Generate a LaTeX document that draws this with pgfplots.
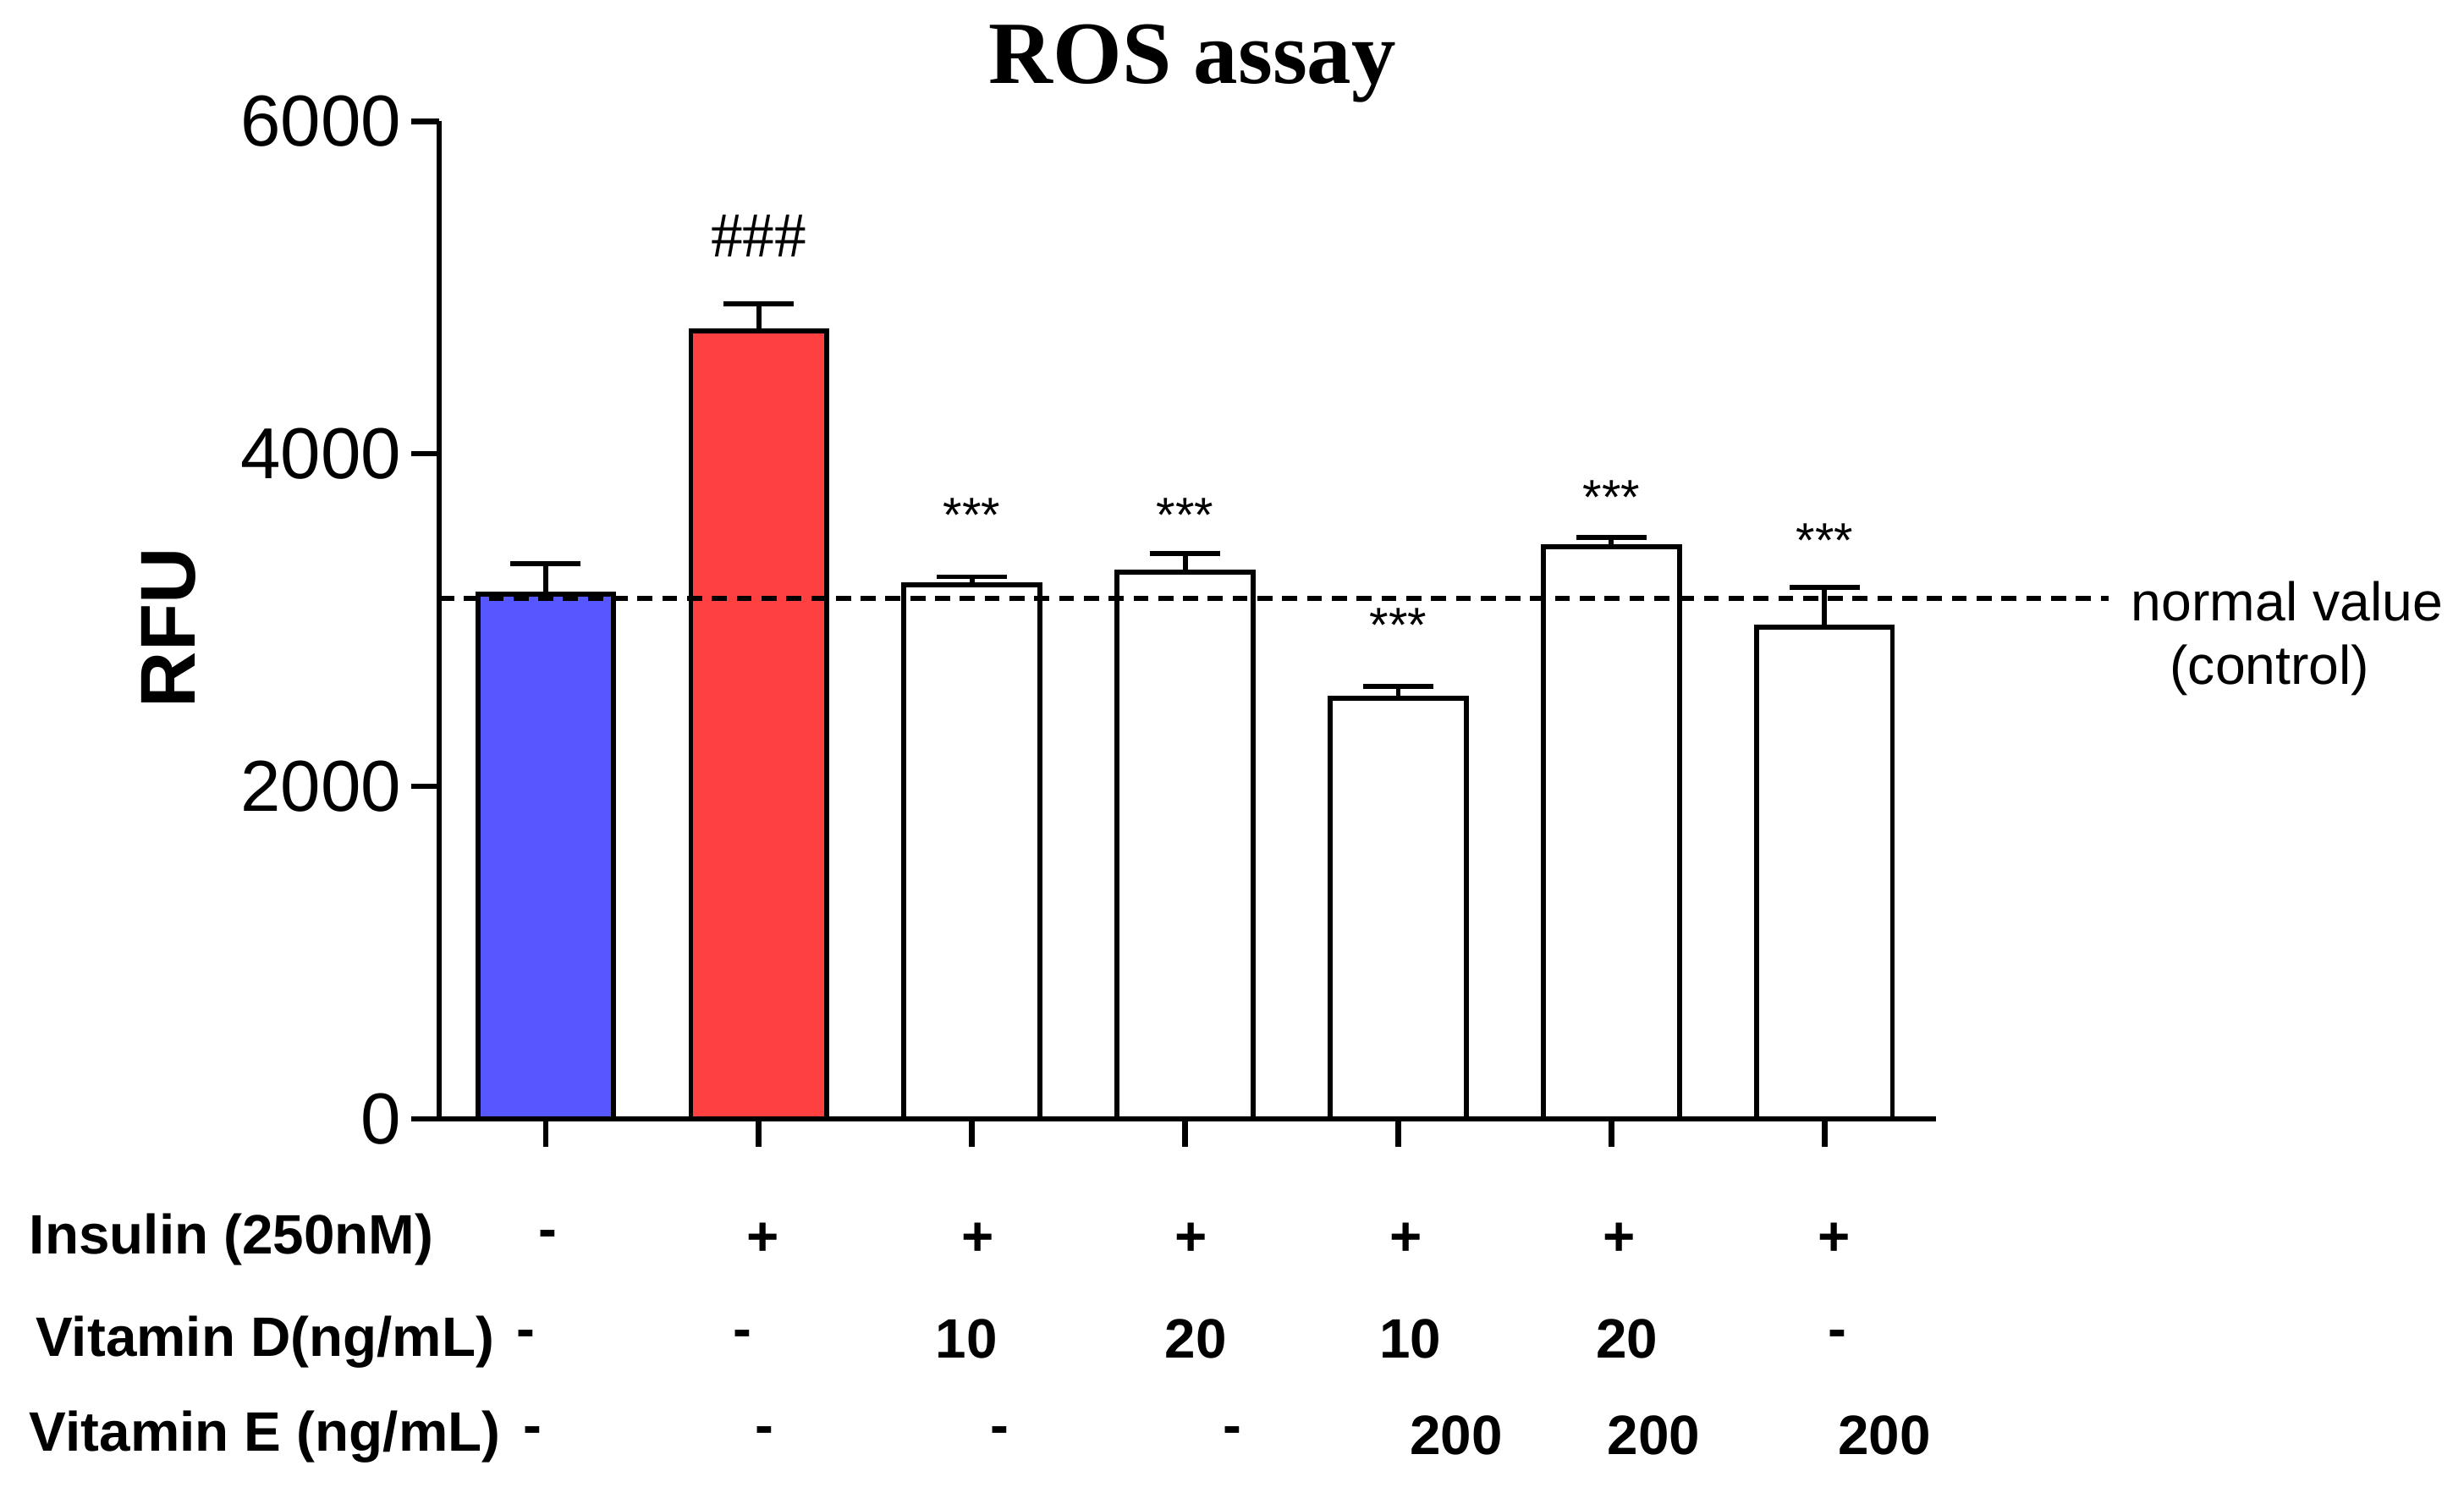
\documentclass[border=0pt]{standalone}
\usepackage{fontspec}
\setmainfont{Liberation Sans}
\newfontfamily\seriffont{Liberation Serif}
\usepackage{pgfplots}
\pgfplotsset{compat=1.18}

\definecolor{ctrlblue}{HTML}{5757FF}
\definecolor{insred}{HTML}{FF4040}

\pgfplotsset{
  rosbar/.style={ybar, bar width=0.86cm, draw=black, line width=0.9pt,
    error bars/y dir=plus, error bars/y explicit,
    error bars/error bar style={line width=0.9pt, black},
    error bars/error mark options={rotate=90, line width=0.9pt, black, mark size=0.222cm}},
}

\begin{document}
\begin{tikzpicture}[x=1cm,y=1cm]
\useasboundingbox (0,0) rectangle (15.6,9.4446);
\begin{axis}[
    at={(2.78cm,2.363cm)}, anchor=south west,
    scale only axis, width=9.477cm, height=6.314cm,
    xmin=-0.5, xmax=6.523, ymin=0, ymax=6000,
    axis x line*=bottom, axis y line*=left,
    axis line style={line width=1pt},
    x axis line style={-, shorten <=-0.17cm},
    y axis line style={-},
    xtick={0,...,6}, xticklabels={},
    ytick={0,2000,4000,6000},
    tick align=outside, major tick length=0.175cm,
    tick style={black, line width=1pt},
    yticklabel style={font=\fontsize{13}{13}\selectfont, xshift=0.6mm},
    /pgf/number format/assume math mode=true,
    /pgf/number format/1000 sep={},
    clip=false,
  ]
  % control
  \addplot[rosbar, fill=ctrlblue] coordinates {(0,3155) +- (0,185)};
  % insulin
  \addplot[rosbar, fill=insred] coordinates {(1,4740) +- (0,160)};
  % treatments
  \addplot[rosbar, fill=white] coordinates {
      (2,3210) +- (0,50)
      (3,3290) +- (0,110)
      (4,2530) +- (0,70)
      (5,3440) +- (0,55)
      (6,2955) +- (0,240)
    };
  % normal value line
  \addplot[black, line width=0.95pt, dash pattern=on 0.95mm off 0.62mm]
    coordinates {(-0.5,3130) (7.333,3130)};

  \node[font=\seriffont\fontsize{11.5}{11.5}\selectfont] at (axis cs:1,5310) {\#\#\#};
  \node[font=\fontsize{8.8}{9}\selectfont] at (axis cs:2,3630) {***};
  \node[font=\fontsize{8.8}{9}\selectfont] at (axis cs:3,3630) {***};
  \node[font=\fontsize{8.8}{9}\selectfont] at (axis cs:4,2970) {***};
  \node[font=\fontsize{8.8}{9}\selectfont] at (axis cs:5,3740) {***};
  \node[font=\fontsize{8.8}{9}\selectfont] at (axis cs:6,3476) {***};
\end{axis}

% title and axis label
\node[font=\seriffont\bfseries\fontsize{16}{16}\selectfont] at (7.55,9.04) {ROS assay};
\node[font=\bfseries\fontsize{14}{14}\selectfont, rotate=90] at (1.07,5.47) {RFU};
\node[font=\fontsize{9.8}{10}\selectfont] at (14.48,5.64) {normal value};
\node[font=\fontsize{9.8}{10}\selectfont] at (14.37,5.20) {(control)};

% treatment table
\begin{scope}[every node/.style={font=\bfseries\fontsize{10}{10}\selectfont}]
  \node[anchor=west, inner sep=0pt] at (0.18,1.60) {Insulin (250nM)};
  \node[anchor=west, inner sep=0pt] at (0.22,0.95) {Vitamin D(ng/mL)};
  \node[anchor=west, inner sep=0pt] at (0.18,0.35) {Vitamin E (ng/mL)};
  \foreach \x/\t in {3.47/-, 4.83/+, 6.19/+, 7.54/+, 8.90/+, 10.25/+, 11.61/+}
    \node at (\x,1.60) {\t};
  \foreach \x/\t in {3.33/-, 4.70/-, 6.12/10, 7.57/20, 8.93/10, 10.30/20, 11.63/-}
    \node at (\x,0.97) {\t};
  \foreach \x/\t in {3.37/-, 4.84/-, 6.33/-, 7.80/-, 9.22/200, 10.47/200, 11.93/200}
    \node at (\x,0.36) {\t};
\end{scope}
\end{tikzpicture}
\end{document}
